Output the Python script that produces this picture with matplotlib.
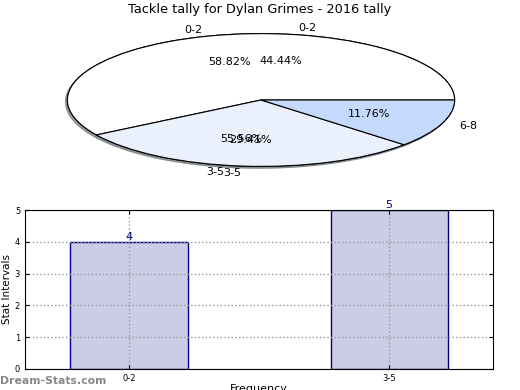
import matplotlib.pyplot as plt
import matplotlib.patches as mpatches

# data
bar_labels = ['0-2', '3-5']
bar_values = [4, 5]

pie_a_labels = ['0-2', '3-5', '6-8']
pie_a_values = [10, 5, 2]

pie_b_labels = ['0-2', '3-5']
pie_b_values = [4, 5]

pie_colors = ['#ffffff', '#eaf1fd', '#c5d9fc']

fig = plt.figure(figsize=(5.2, 3.9), dpi=100)

# pie part (two pies drawn over each other, squashed)
ax1 = fig.add_axes([19 / 520, 1 - 183 / 390, 484 / 520, 166 / 390])


def draw_pie(vals, labs, cols):
    wedges, _, _ = ax1.pie(vals, labels=labs, autopct='%.2f%%', colors=cols,
                           wedgeprops={'edgecolor': 'black', 'linewidth': 0.8},
                           textprops={'fontsize': 8})
    for w in wedges:
        sh = mpatches.Shadow(w, -0.007, -0.02, shade=0.5)
        sh.set_zorder(w.get_zorder() - 0.1)
        ax1.add_patch(sh)


draw_pie(pie_b_values, pie_b_labels, pie_colors[:2])
draw_pie(pie_a_values, pie_a_labels, pie_colors)
ax1.set_aspect('auto')
ax1.set_xlim(-1.25, 1.25)
ax1.set_ylim(-1.25, 1.25)
fig.text(0.5, 1 - 10 / 390, 'Tackle tally for Dylan Grimes - 2016 tally',
         ha='center', va='center', fontsize=9.3)

# bar part
ax2 = fig.add_axes([25 / 520, 1 - 369 / 390, 468 / 520, 159 / 390])
x = list(range(len(bar_labels)))
bars = ax2.bar(x, bar_values, width=0.45, color='#ccccE6', edgecolor='navy', linewidth=1)
for b, v in zip(bars, bar_values):
    ax2.text(b.get_x() + b.get_width() / 2, v, str(v), ha='center', va='bottom',
             color='navy', fontsize=8)
ax2.set_xlim(-0.4, 1.4)
ax2.set_ylim(0, 5)
ax2.set_xticks(x)
ax2.set_xticklabels(bar_labels)
ax2.tick_params(labelsize=6, direction='in', top=True, right=True, length=3)
ax2.grid(True, linestyle=':', color='#999999', linewidth=1)
ax2.set_axisbelow(False)
for s in ax2.spines.values():
    s.set_zorder(4)
ax2.set_ylabel('Stat Intervals', fontsize=7.5, labelpad=2)
ax2.set_xlabel('Frequency', fontsize=8, labelpad=1)

fig.text(0.0, 1 - 381 / 390, 'Dream-Stats.com', ha='left', va='center',
         fontsize=7.8, color='#888888', weight='bold')

fig.savefig('out.png', dpi=100)
